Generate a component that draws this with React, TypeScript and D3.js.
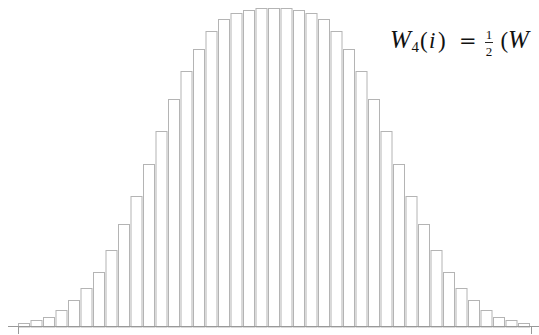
import * as d3 from "d3";
import { useEffect, useRef } from "react";

// relative bar heights, left half + centre (distribution is symmetric)
const halfValues = [
  13.5, 21, 32, 52, 84, 121, 171, 240, 322, 411, 512, 613, 714, 801, 871, 928, 965, 984, 994, 999, 1000,
];
const values = [...halfValues, ...halfValues.slice(0, -1).reverse()];
const bins = values.map((v, i) => i);
const xTicks = [0, values.length];

function App() {
  const svgRef = useRef(null);

  useEffect(() => {
    const svg = d3.select(svgRef.current);
    const baseY = 327;

    const x = d3.scaleLinear().domain([0, values.length]).range([18, 530.5]);
    const y = d3.scaleLinear().domain([0, 1000]).range([baseY, 8]);

    svg
      .select(".bars")
      .selectAll("rect")
      .data(bins)
      .join("rect")
      .attr("x", (i) => x(i) + 0.5)
      .attr("y", (i) => Math.round(y(values[i])) + 0.5)
      .attr("width", x(1) - x(0) - 1.5)
      .attr("height", (i) => baseY - Math.round(y(values[i])) - 0.5)
      .attr("fill", "#fff")
      .attr("stroke", "#b4b4b4")
      .attr("stroke-width", 1);

    const axis = svg.select(".x-axis");
    axis
      .selectAll("line.base")
      .data([0])
      .join("line")
      .attr("class", "base")
      .attr("x1", 8)
      .attr("x2", 539)
      .attr("y1", baseY - 0.5)
      .attr("y2", baseY - 0.5)
      .attr("stroke", "#999")
      .attr("stroke-width", 1);
    axis
      .selectAll("line.tick")
      .data(xTicks)
      .join("line")
      .attr("class", "tick")
      .attr("x1", (d) => Math.round(x(d)) + 0.5)
      .attr("x2", (d) => Math.round(x(d)) + 0.5)
      .attr("y1", baseY - 1)
      .attr("y2", baseY + 7)
      .attr("stroke", "#999")
      .attr("stroke-width", 1);
  }, []);

  const font = "'Liberation Serif', 'DejaVu Serif', serif";
  return (
    <svg
      ref={svgRef}
      width={539}
      height={335}
      style={{ position: "absolute", left: 0, top: 0, background: "#fff" }}
    >
      <g className="bars"></g>
      <g className="x-axis"></g>
      <g fontFamily={font} fill="#111" fontSize={23}>
        <text x={390} y={47.5} fontSize={25} fontStyle="italic">W</text>
        <text x={411.5} y={51.5} fontSize={15}>4</text>
        <text x={420} y={47.5}>(</text>
        <text x={429} y={47.5} fontStyle="italic">i</text>
        <text x={438} y={47.5}>)</text>
        <text x={459} y={47.5} fontFamily="'DejaVu Serif', serif" fontSize={21}>=</text>
        <text x={489} y={38.5} fontSize={13} textAnchor="middle">1</text>
        <line x1={485} x2={493} y1={42.5} y2={42.5} stroke="#111" strokeWidth={0.9} />
        <text x={489} y={55.5} fontSize={13} textAnchor="middle">2</text>
        <text x={500.5} y={47.5}>(</text>
        <text x={508} y={47.5} fontSize={25} fontStyle="italic">W</text>
      </g>
    </svg>
  );
}

export default App;
